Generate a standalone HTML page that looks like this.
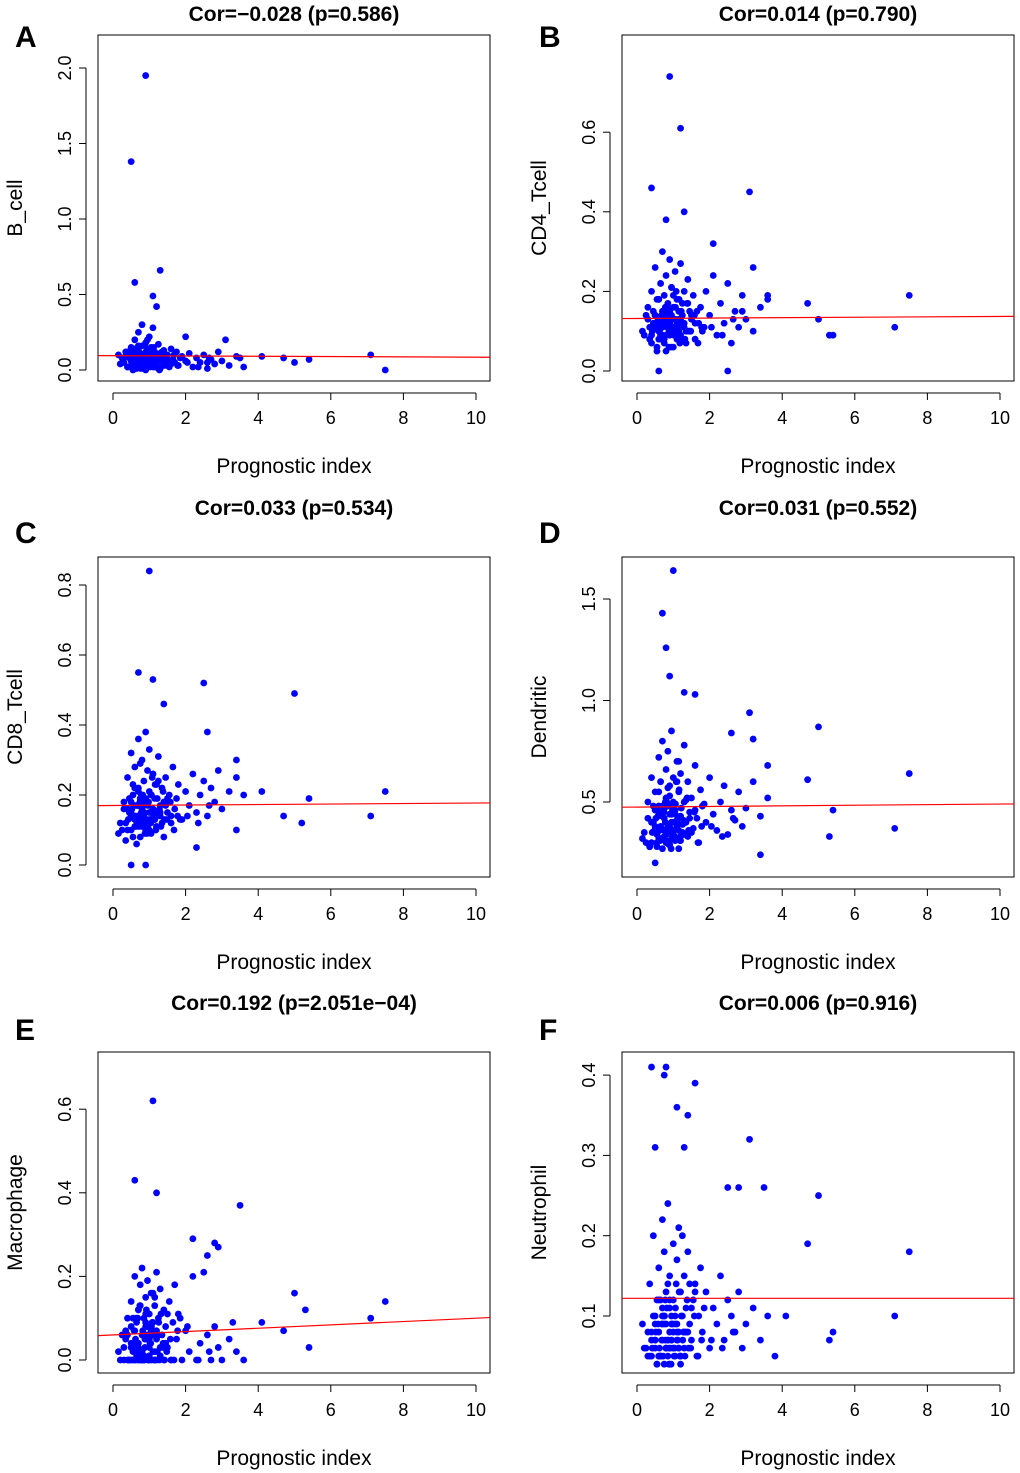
<!DOCTYPE html>
<html><head><meta charset="utf-8">
<style>
body{margin:0;background:#fff;}
svg{display:block;font-family:"Liberation Sans",Arial,sans-serif;}
</style></head>
<body>
<svg id="chart" width="1020" height="1473" viewBox="0 0 1020 1473" xmlns="http://www.w3.org/2000/svg"></svg>
<script>
const xTicks=[0,2,4,6,8,10];
const bulkX=[0.15,0.3,0.35,0.4,0.45,0.5,0.5,0.55,0.6,0.6,0.65,0.65,0.7,0.7,0.7,0.75,0.75,0.8,0.8,0.8,0.85,0.85,0.9,0.9,0.9,0.95,0.95,1.0,1.0,1.0,1.05,1.05,1.1,1.1,1.15,1.15,1.2,1.2,1.25,1.3,1.3,1.35,1.4,1.4,1.45,1.5,1.55,1.6,1.65,1.7,1.75,1.8,1.9,2.0,2.1,2.2,2.3,2.4,2.5,2.6,2.7,2.8,2.9,3.0,3.2,3.4,3.6,0.25,0.4,0.55,0.6,0.75,0.85,0.95,1.05,1.15,1.25,1.35,1.5,1.6,0.35,0.5,0.7,0.8,0.9,1.0,1.1,1.2,1.45,1.85];
const bulkX2=[0.2,0.3,0.4,0.45,0.5,0.55,0.6,0.62,0.68,0.72,0.78,0.82,0.88,0.92,0.98,1.02,1.08,1.12,1.18,1.22,1.28,1.32,1.38,1.42,0.58,0.66,0.74,0.86,0.94,1.06,0.42,0.52,0.64,0.76,0.84,0.96,1.04,1.16,1.26,1.48,1.58,1.68,1.78,0.7,0.8,0.9,1.0,1.1,0.6,0.5,2.05,2.35,2.65,0.88,0.78,1.2,1.3,0.68,0.95,1.15];
const yA=[0.1,0.05,0.12,0.02,0.08,0.15,0.03,0.1,0.2,0.06,0.13,0.01,0.09,0.25,0.04,0.11,0.07,0.16,0.02,0.3,0.08,0.05,0.12,0.18,0.0,0.09,0.14,0.06,0.22,0.03,0.1,0.15,0.07,0.28,0.02,0.12,0.05,0.09,0.17,0.01,0.11,0.06,0.13,0.04,0.08,0.1,0.02,0.14,0.07,0.05,0.12,0.03,0.09,0.06,0.11,0.02,0.08,0.05,0.1,0.01,0.07,0.04,0.12,0.06,0.03,0.09,0.02,0.08,0.12,0.06,0.14,0.03,0.1,0.2,0.05,0.09,0.01,0.12,0.07,0.04,0.09,0.11,0.16,0.04,0.07,0.13,0.02,0.1,0.06,0.08];
const yA2=[0.04,0.08,0.02,0.11,0.06,0.0,0.09,0.13,0.03,0.07,0.1,0.01,0.05,0.12,0.08,0.02,0.06,0.15,0.04,0.09,0.0,0.07,0.11,0.03,0.06,0.14,0.02,0.1,0.05,0.08,0.12,0.03,0.07,0.01,0.09,0.04,0.11,0.06,0.02,0.08,0.05,0.1,0.03,0.13,0.06,0.02,0.09,0.04,0.07,0.11,0.05,0.02,0.08,0.06,0.1,0.03,0.07,0.05,0.12,0.04];
const yB=[0.1,0.16,0.08,0.2,0.12,0.26,0.14,0.06,0.18,0.1,0.22,0.09,0.15,0.3,0.11,0.19,0.07,0.13,0.24,0.05,0.12,0.17,0.09,0.28,0.14,0.1,0.21,0.06,0.16,0.11,0.13,0.25,0.08,0.18,0.12,0.15,0.27,0.09,0.14,0.2,0.11,0.07,0.17,0.23,0.1,0.13,0.19,0.08,0.15,0.12,0.16,0.1,0.2,0.14,0.24,0.09,0.17,0.12,0.22,0.07,0.15,0.11,0.19,0.13,0.1,0.16,0.19,0.14,0.09,0.18,0.12,0.08,0.15,0.21,0.11,0.13,0.17,0.1,0.14,0.12,0.11,0.14,0.09,0.16,0.12,0.19,0.1,0.13,0.15,0.11];
const yB2=[0.09,0.13,0.07,0.15,0.11,0.05,0.18,0.1,0.14,0.08,0.12,0.16,0.06,0.1,0.13,0.09,0.2,0.11,0.07,0.15,0.12,0.08,0.17,0.1,0.13,0.09,0.14,0.11,0.06,0.16,0.1,0.12,0.08,0.15,0.11,0.13,0.09,0.18,0.12,0.1,0.14,0.07,0.11,0.13,0.09,0.15,0.1,0.12,0.08,0.14,0.11,0.09,0.13,0.1,0.16,0.08,0.12,0.11,0.14,0.1];
const yC=[0.09,0.18,0.12,0.25,0.15,0.32,0.1,0.2,0.14,0.28,0.06,0.17,0.36,0.13,0.22,0.08,0.19,0.3,0.11,0.16,0.24,0.14,0.38,0.1,0.18,0.27,0.12,0.21,0.15,0.33,0.09,0.2,0.16,0.26,0.13,0.19,0.23,0.11,0.31,0.17,0.14,0.22,0.08,0.18,0.25,0.15,0.2,0.12,0.28,0.16,0.19,0.23,0.13,0.21,0.17,0.26,0.15,0.2,0.24,0.14,0.22,0.18,0.27,0.16,0.21,0.25,0.2,0.1,0.16,0.23,0.13,0.29,0.17,0.11,0.2,0.15,0.24,0.12,0.19,0.14,0.07,0.15,0.21,0.12,0.18,0.1,0.26,0.14,0.17,0.13];
const yC2=[0.12,0.16,0.1,0.19,0.14,0.08,0.22,0.13,0.17,0.11,0.15,0.2,0.09,0.13,0.18,0.12,0.25,0.14,0.1,0.19,0.16,0.11,0.21,0.13,0.17,0.12,0.18,0.15,0.09,0.2,0.13,0.16,0.11,0.19,0.14,0.17,0.12,0.23,0.15,0.13,0.18,0.1,0.14,0.17,0.12,0.19,0.13,0.16,0.11,0.18,0.14,0.12,0.17,0.13,0.2,0.11,0.15,0.14,0.18,0.13];
const yD=[0.32,0.5,0.28,0.62,0.4,0.35,0.55,0.3,0.72,0.45,0.38,0.6,0.27,0.48,0.8,0.33,0.42,0.66,0.3,0.52,0.36,0.75,0.44,0.29,0.58,0.4,0.85,0.34,0.5,0.62,0.31,0.46,0.7,0.38,0.55,0.27,0.43,0.64,0.35,0.5,0.78,0.4,0.33,0.6,0.45,0.52,0.37,0.68,0.42,0.3,0.56,0.48,0.4,0.62,0.44,0.36,0.5,0.58,0.34,0.46,0.41,0.55,0.38,0.47,0.6,0.43,0.52,0.3,0.4,0.34,0.48,0.36,0.57,0.32,0.44,0.7,0.39,0.51,0.35,0.46,0.28,0.37,0.45,0.31,0.53,0.4,0.6,0.33,0.42,0.49];
const yD2=[0.35,0.42,0.3,0.48,0.38,0.28,0.55,0.36,0.44,0.32,0.4,0.5,0.29,0.37,0.46,0.33,0.6,0.39,0.31,0.47,0.41,0.34,0.52,0.36,0.43,0.32,0.45,0.38,0.27,0.49,0.35,0.42,0.31,0.47,0.37,0.44,0.33,0.56,0.39,0.36,0.45,0.3,0.38,0.43,0.34,0.48,0.36,0.41,0.32,0.46,0.38,0.33,0.42,0.35,0.5,0.31,0.4,0.37,0.44,0.36];
const yE=[0.02,0.0,0.05,0.1,0.0,0.03,0.14,0.0,0.07,0.2,0.01,0.09,0.0,0.12,0.04,0.18,0.0,0.06,0.22,0.02,0.1,0.0,0.15,0.05,0.08,0.0,0.19,0.03,0.11,0.0,0.07,0.16,0.02,0.09,0.13,0.0,0.21,0.05,0.1,0.01,0.17,0.06,0.0,0.12,0.08,0.03,0.14,0.0,0.09,0.18,0.05,0.11,0.0,0.07,0.02,0.2,0.0,0.04,0.21,0.06,0.0,0.08,0.03,0.0,0.05,0.02,0.0,0.06,0.0,0.1,0.04,0.13,0.01,0.08,0.0,0.15,0.06,0.03,0.11,0.0,0.07,0.0,0.12,0.02,0.09,0.05,0.16,0.0,0.04,0.1];
const yE2=[0.0,0.03,0.06,0.0,0.08,0.02,0.0,0.05,0.1,0.01,0.0,0.07,0.03,0.12,0.0,0.04,0.09,0.0,0.06,0.02,0.0,0.11,0.04,0.0,0.07,0.02,0.13,0.0,0.05,0.08,0.0,0.03,0.1,0.01,0.0,0.06,0.04,0.0,0.09,0.02,0.05,0.0,0.07,0.03,0.0,0.11,0.01,0.06,0.0,0.04,0.08,0.0,0.02,0.05,0.0,0.07,0.03,0.0,0.06,0.02];
const yF=[0.09,0.05,0.14,0.07,0.2,0.06,0.1,0.04,0.16,0.08,0.12,0.05,0.22,0.07,0.11,0.04,0.18,0.09,0.06,0.13,0.05,0.24,0.08,0.15,0.04,0.1,0.07,0.19,0.06,0.12,0.09,0.05,0.17,0.07,0.21,0.08,0.13,0.05,0.1,0.15,0.06,0.11,0.08,0.18,0.09,0.07,0.12,0.14,0.05,0.1,0.16,0.08,0.13,0.06,0.11,0.09,0.15,0.07,0.12,0.1,0.08,0.13,0.06,0.09,0.11,0.07,0.1,0.06,0.08,0.12,0.05,0.09,0.14,0.07,0.1,0.06,0.2,0.08,0.11,0.13,0.05,0.07,0.1,0.06,0.12,0.08,0.09,0.04,0.14,0.11];
const yF2=[0.06,0.08,0.05,0.1,0.07,0.04,0.12,0.06,0.09,0.05,0.07,0.11,0.04,0.06,0.09,0.05,0.14,0.07,0.05,0.1,0.08,0.05,0.12,0.06,0.09,0.05,0.1,0.07,0.04,0.11,0.06,0.08,0.05,0.1,0.07,0.09,0.06,0.13,0.07,0.06,0.1,0.05,0.07,0.09,0.06,0.11,0.06,0.08,0.05,0.09,0.07,0.06,0.08,0.06,0.12,0.05,0.08,0.07,0.09,0.06];
const outXA=[0.9,0.5,1.3,0.6,1.1,1.2,2.0,3.1,7.1,7.5,5.4,5.0,4.7,4.1,3.5,2.6];
const outYA=[1.95,1.38,0.66,0.58,0.49,0.42,0.22,0.2,0.1,0.0,0.07,0.05,0.08,0.09,0.08,0.05];
const outXB=[0.9,1.2,0.4,3.1,1.3,0.8,2.1,3.2,4.7,5.0,5.3,5.4,7.1,7.5,2.5,0.6,3.6,2.9];
const outYB=[0.74,0.61,0.46,0.45,0.4,0.38,0.32,0.26,0.17,0.13,0.09,0.09,0.11,0.19,0.0,0.0,0.18,0.15];
const outXC=[1.0,0.7,1.1,2.5,5.0,1.4,2.6,3.4,4.1,5.4,7.5,7.1,4.7,5.2,3.4,0.5,0.9,2.3];
const outYC=[0.84,0.55,0.53,0.52,0.49,0.46,0.38,0.3,0.21,0.19,0.21,0.14,0.14,0.12,0.1,0.0,0.0,0.05];
const outXD=[1.0,0.7,0.8,0.9,3.1,5.0,2.6,3.2,3.6,7.5,4.7,5.4,5.3,7.1,3.4,0.5,1.3,1.6];
const outYD=[1.64,1.43,1.26,1.12,0.94,0.87,0.84,0.81,0.68,0.64,0.61,0.46,0.33,0.37,0.24,0.2,1.04,1.03];
const outXE=[1.1,0.6,1.2,3.5,2.2,2.8,2.6,5.0,7.5,5.3,7.1,4.1,4.7,5.4,2.9,3.3];
const outYE=[0.62,0.43,0.4,0.37,0.29,0.28,0.25,0.16,0.14,0.12,0.1,0.09,0.07,0.03,0.27,0.09];
const outXF=[0.4,0.8,1.1,1.6,0.75,1.4,3.1,0.5,2.5,2.8,3.5,5.0,4.7,7.5,7.1,5.4,5.3,4.1,3.8,1.3];
const outYF=[0.41,0.41,0.36,0.39,0.4,0.35,0.32,0.31,0.26,0.26,0.26,0.25,0.19,0.18,0.1,0.08,0.07,0.1,0.05,0.31];
const panels=[
 {id:'A',title:'Cor=\u22120.028 (p=0.586)',ylab:'B_cell',ys:yA,ys2:yA2,ox:outXA,oy:outYA,ticks:[0,0.5,1,1.5,2],tl:['0.0','0.5','1.0','1.5','2.0'],line:[0.095,0.085],col:0,row:0,y0v:0,y0p:370,upx:151},
 {id:'B',title:'Cor=0.014 (p=0.790)',ylab:'CD4_Tcell',ys:yB,ys2:yB2,ox:outXB,oy:outYB,ticks:[0,0.2,0.4,0.6],tl:['0.0','0.2','0.4','0.6'],line:[0.132,0.137],col:1,row:0,y0v:0,y0p:371,upx:398},
 {id:'C',title:'Cor=0.033 (p=0.534)',ylab:'CD8_Tcell',ys:yC,ys2:yC2,ox:outXC,oy:outYC,ticks:[0,0.2,0.4,0.6,0.8],tl:['0.0','0.2','0.4','0.6','0.8'],line:[0.17,0.177],col:0,row:1,y0v:0,y0p:865,upx:350},
 {id:'D',title:'Cor=0.031 (p=0.552)',ylab:'Dendritic',ys:yD,ys2:yD2,ox:outXD,oy:outYD,ticks:[0.5,1,1.5],tl:['0.5','1.0','1.5'],line:[0.475,0.49],col:1,row:1,y0v:0.5,y0p:802,upx:203},
 {id:'E',title:'Cor=0.192 (p=2.051e\u221204)',ylab:'Macrophage',ys:yE,ys2:yE2,ox:outXE,oy:outYE,ticks:[0,0.2,0.4,0.6],tl:['0.0','0.2','0.4','0.6'],line:[0.06,0.1],col:0,row:2,y0v:0,y0p:1360,upx:418},
 {id:'F',title:'Cor=0.006 (p=0.916)',ylab:'Neutrophil',ys:yF,ys2:yF2,ox:outXF,oy:outYF,ticks:[0.1,0.2,0.3,0.4],tl:['0.1','0.2','0.3','0.4'],line:[0.122,0.122],col:1,row:2,y0v:0.1,y0p:1316,upx:803}
];
const NS='http://www.w3.org/2000/svg';
const svg=document.getElementById('chart');
const boxTop=[35,557,1052],boxBot=[381,877,1373];
function mk(tag,attrs,parent){const e=document.createElementNS(NS,tag);for(const k in attrs)e.setAttribute(k,attrs[k]);parent.appendChild(e);return e;}
panels.forEach(p=>{
 const ox=p.col*524, bl=98+ox, br=490+ox, bt=boxTop[p.row], bb=boxBot[p.row];
 const sx=v=>113+ox+36.3*v;
 const sy=v=>p.y0p-(v-p.y0v)*p.upx;
 const g=mk('g',{},svg);
 
 
 const lt=mk('text',{x:15+ox,y:[47,543,1040][p.row],'font-size':30,'font-weight':'bold'},g);lt.textContent=p.id;
 
 const ti=mk('text',{x:(bl+br)/2,y:[21,515,1010][p.row],'font-size':21,'font-weight':'bold','text-anchor':'middle'},g);ti.textContent=p.title;
 
 const bx=mk('rect',{x:bl,y:bt,width:br-bl,height:bb-bt,fill:'none',stroke:'#000','stroke-width':1},g);
 
 const ay=bb+12;
 const xa=mk('line',{x1:sx(0),x2:sx(10),y1:ay,y2:ay,stroke:'#000'},g);
 
 xTicks.forEach(t=>{
  mk('line',{x1:sx(t),x2:sx(t),y1:ay,y2:ay+7,stroke:'#000'},g);
  const tx=mk('text',{x:sx(t),y:ay+31,'font-size':18,'text-anchor':'middle'},g);tx.textContent=t;
  
 });
 const xl=mk('text',{x:(bl+br)/2,y:bb+92,'font-size':21,'text-anchor':'middle'},g);xl.textContent='Prognostic index';
 
 const axx=bl-12;
 const ya=mk('line',{x1:axx,x2:axx,y1:sy(p.ticks[0]),y2:sy(p.ticks[p.ticks.length-1]),stroke:'#000'},g);
 
 p.ticks.forEach((t,i)=>{
  const yy=sy(t);
  mk('line',{x1:axx-7,x2:axx,y1:yy,y2:yy,stroke:'#000'},g);
  const tx=mk('text',{x:axx-15,y:yy,'font-size':18,'text-anchor':'middle',transform:`rotate(-90 ${axx-15} ${yy})`},g);tx.textContent=p.tl[i];
  
 });
 const ylx=22+ox, yly=(bt+bb)/2;
 const yl=mk('text',{x:ylx,y:yly,'font-size':21,'text-anchor':'middle',transform:`rotate(-90 ${ylx} ${yly})`},g);yl.textContent=p.ylab;
 
 const xs=bulkX.concat(bulkX2,p.ox), ys=p.ys.concat(p.ys2,p.oy);
 xs.forEach((x,i)=>{
  const c=mk('circle',{cx:sx(x),cy:sy(ys[i]),r:3.4,fill:'#0000ff'},g);
  
  
 });
 const slope=(p.line[1]-p.line[0])/10;
 const xv1=(bl-113-ox)/36.3, xv2=(br-113-ox)/36.3;
 const rl=mk('line',{x1:bl,x2:br,y1:sy(p.line[0]+slope*xv1),y2:sy(p.line[0]+slope*xv2),stroke:'#ff0000','stroke-width':1.2},g);
 
});
</script>
</body></html>
